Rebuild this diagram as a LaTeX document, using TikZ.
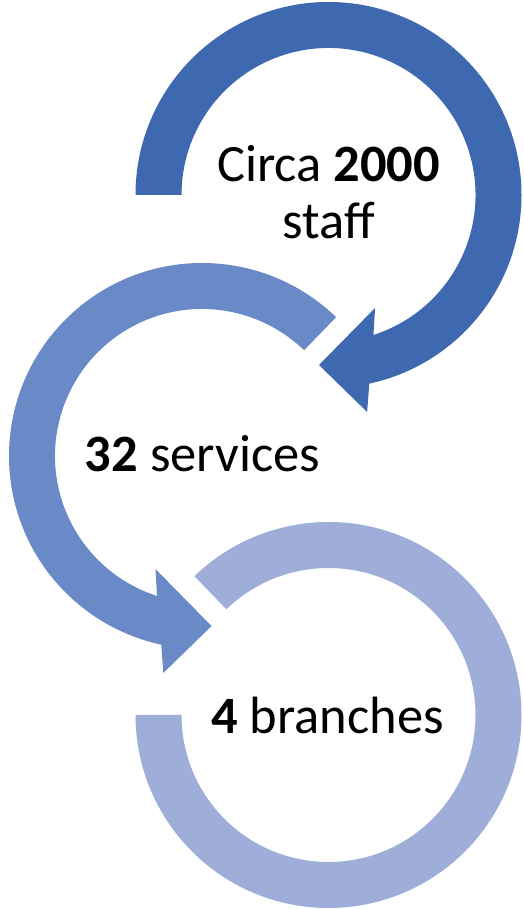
\documentclass[tikz,border=0pt]{standalone}
\usepackage{fontspec}
\setmainfont{Carlito}
\usetikzlibrary{calc}
\definecolor{ringA}{HTML}{3E68B0}
\definecolor{ringB}{HTML}{6A89C7}
\definecolor{ringC}{HTML}{9FAED8}
\begin{document}
\begin{tikzpicture}[x=1pt,y=1pt,
  lbl/.style={anchor=base,inner sep=0pt,font=\fontsize{52.5}{57}\selectfont}]
\useasboundingbox (0,0) rectangle (524,909);
\coordinate (C1) at (328.5,714);
\coordinate (C2) at (202,453);
\coordinate (C3) at (328.5,194);
% ring 3 (no arrowhead)
\fill[ringC] ($(C3)+(180:193)$) arc[start angle=180,end angle=494,radius=193]
  -- ($(C3)+(494:147)$) arc[start angle=494,end angle=180,radius=147] -- cycle;
% ring 2
\fill[ringB] ($(C2)+(46:193)$) arc[start angle=46,end angle=257.8,radius=193]
  -- ($(C2)+(259.9:220.4)$) -- ($(C2)+(273.2:170.3)$) -- ($(C2)+(247.6:122.2)$)
  -- ($(C2)+(252.2:147)$) arc[start angle=252.2,end angle=46,radius=147] -- cycle;
% ring 1
\fill[ringA] ($(C1)+(180:193)$) arc[start angle=180,end angle=-77.8,radius=193]
  -- ($(C1)+(-79.9:220.4)$) -- ($(C1)+(-93.2:170.3)$) -- ($(C1)+(-67.6:122.2)$)
  -- ($(C1)+(-72.2:147)$) arc[start angle=-72.2,end angle=180,radius=147] -- cycle;
% labels
\node[lbl] (t1a) at (328.5,727) {Circa \textbf{2000}};
\node[lbl] (t1b) at (329,670) {staff};
\node[lbl] (t2) at (202.5,437) {\textbf{32} services};
\node[lbl] (t3) at (327.5,175) {\textbf{4} branches};
\end{tikzpicture}
\end{document}
